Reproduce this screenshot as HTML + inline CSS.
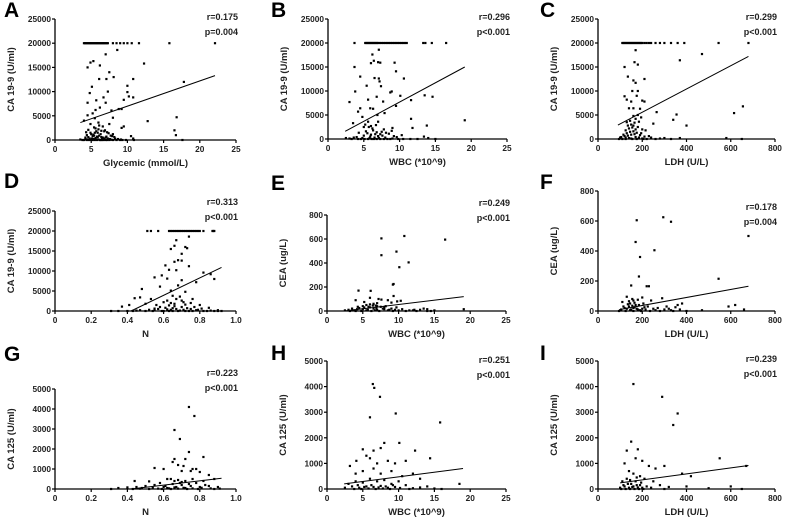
<!DOCTYPE html>
<html><head><meta charset="utf-8"><style>
html,body{margin:0;padding:0;background:#fff;}
svg{display:block;font-family:"Liberation Sans",Arial,sans-serif;}
</style></head><body>
<svg id="fig" width="800" height="519" viewBox="0 0 800 519"></svg>
<script>
// ---------- data ----------
const aPoints=[[4.0,20000],[4.3,20000],[4.6,20000],[4.9,20000],[5.2,20000],[5.5,20000],[5.8,20000],[6.1,20000],[6.4,20000],[6.7,20000],[7.0,20000],[7.3,20000],[8.0,20000],[8.5,20000],[9.0,20000],[9.5,20000],[10.0,20000],[10.6,20000],[11.6,20000],[15.8,20000],[22.1,20000],[4.15,20000],[4.45,20000],[4.75,20000],[5.05,20000],[5.35,20000],[5.65,20000],[5.95,20000],[6.25,20000],[6.55,20000],[6.85,20000],[7.15,20000],
[4.5,15000],[4.9,16000],[5.3,16300],[6.2,15400],[7.0,17700],[7.5,14000],[8.6,18600],[12.3,15800],[6.1,12600],[7.1,12600],[8.1,13000],[10.8,12600],[17.8,12000],[4.8,9700],[5.1,11000],[5.7,8200],[6.7,8800],[7.3,10000],[9.5,8300],[10.0,11200],[10.0,9900],[10.2,9000],[10.8,8800],[4.5,7700],[5.6,6200],[6.2,6700],[7.0,7700],[7.8,6100],[8.8,6400],[9.2,6400],[4.0,4000],[4.5,5100],[5.2,5500],[5.5,4500],[6.0,3600],[7.5,3300],[8.0,4600],[12.8,3900],[16.8,4700],[16.5,2000],[16.7,1000],[9.5,2800],[9.2,2500],[4.6,2100],[5.5,1500],[6.0,2200],[6.8,1800],[7.4,1400],[8.0,1200],[10.5,800],[10.8,300],[4.2,500],[4.8,300],[5.2,800],[5.6,400],[6.1,900],[6.5,200],[7.0,500],[7.6,200],[8.3,300],[9.1,100],[3.5,100],[17.6,0],[4.0,0],[4.5,100],[5.0,0],[5.3,200],[5.8,100],[6.3,0],[6.8,100],[7.2,0],[7.8,50],[8.5,0],[9.8,0],[10.9,0],[5.0,1200],[5.9,1500],[6.4,600],[4.4,1000],[7.9,800],[6.6,2800],[5.4,2600],
[3.8,0],[4.2,200],[4.4,0],[4.6,600],[4.7,0],[4.9,1500],[5.1,300],[5.2,0],[5.4,900],[5.5,0],[5.7,1800],[5.8,0],[5.9,600],[6.0,100],[6.2,0],[6.3,1200],[6.5,0],[6.6,500],[6.7,0],[6.9,2000],[7.0,0],[7.1,700],[7.3,300],[7.5,0],[7.7,900],[8.0,0],[8.2,600],[8.7,200],[9.0,0],[9.3,0],[5.6,2400],[6.1,3000],[4.9,3300],[6.4,1900],[5.3,1100],[4.3,1600],[5.8,700],[6.8,300],[7.2,1600]];
const aLine=[3.5,3600,22.1,13300];

const bPoints=[[3.7,20000],[5.2,20000],[5.5,20000],[5.8,20000],[6.1,20000],[6.4,20000],[6.7,20000],[7.0,20000],[7.5,20000],[8.0,20000],[8.5,20000],[9.0,20000],[9.5,20000],[10.0,20000],[10.5,20000],[11.0,20000],[13.3,20000],[13.6,20000],[14.5,20000],[16.5,20000],[5.35,20000],[5.65,20000],[5.95,20000],[6.25,20000],[6.55,20000],[6.85,20000],[7.25,20000],[7.75,20000],[8.25,20000],[8.75,20000],[9.25,20000],[9.75,20000],[10.25,20000],[10.75,20000],
[3.7,15000],[4.5,13000],[3.8,9900],[3.0,7700],[6.2,17600],[6.4,16300],[6.0,15800],[7.0,16000],[7.3,15900],[7.1,18600],[9.3,15900],[9.5,14100],[6.5,12700],[7.1,12600],[7.2,12000],[10.6,12600],[7.4,11000],[5.4,11100],[6.8,8800],[5.6,8200],[8.9,9900],[8.7,9700],[10.1,9000],[11.6,8100],[13.5,9100],[14.6,8800],[9.5,6900],[7.7,7800],[4.5,6400],[5.9,6400],[6.3,6300],[4.2,5700],[6.9,5000],[7.9,5400],[4.8,4600],[5.6,3600],[7.0,3600],[3.5,3300],[11.6,4200],[19.1,3900],[13.8,2800],[11.8,2300],[9.0,2300],[5.0,2500],[6.3,1800],[7.5,1500],[8.5,1100],[10.3,800],[13.4,500],[14.0,200],[2.5,200],[3.0,100],[4.0,400],[5.0,700],[6.0,900],[7.0,600],[8.0,300],[9.0,100],[10.5,0],[11.5,0],[12.5,0],[15.0,0],[5.5,1200],[6.5,300],[7.3,1000],[5.8,200],[6.8,1400],[4.6,0],[8.3,0],[9.6,400],
[3.3,0],[3.6,300],[4.2,0],[4.8,200],[5.1,0],[5.3,1600],[5.6,0],[5.9,500],[6.1,0],[6.2,2200],[6.4,0],[6.6,1000],[6.8,0],[7.1,200],[7.3,0],[7.6,700],[7.8,0],[8.1,1300],[8.7,0],[9.2,600],[9.8,0],[6.0,2700],[6.7,2900],[5.2,3000],[7.8,2000],[8.9,1700],[4.3,1300],[5.7,2500]];
const bLine=[2.4,1600,19.1,15000];

const cPoints=[[110,20000],[120,20000],[130,20000],[140,20000],[150,20000],[160,20000],[170,20000],[180,20000],[190,20000],[200,20000],[220,20000],[240,20000],[260,20000],[280,20000],[300,20000],[330,20000],[360,20000],[390,20000],[545,20000],[680,20000],[115,20000],[125,20000],[135,20000],[145,20000],[155,20000],[165,20000],[175,20000],[185,20000],[195,20000],[210,20000],[230,20000],
[170,18500],[165,16000],[180,15500],[120,15000],[135,13000],[160,12200],[170,11700],[210,12500],[370,16400],[470,17700],[155,10000],[180,10000],[120,8900],[175,9000],[130,8200],[200,8000],[210,7800],[150,7800],[140,6400],[160,6400],[190,6300],[265,5600],[180,5000],[355,5100],[340,4000],[400,2800],[615,5400],[655,6800],[130,3500],[150,3000],[170,4200],[200,2000],[250,3200],[300,200],[370,200],[580,200],[650,0],[100,300],[110,0],[120,600],[130,1200],[140,200],[150,900],[160,1600],[170,400],[180,2500],[190,800],[200,100],[210,500],[220,0],[240,300],[140,2200],[160,2800],[125,1800],[175,1300],
[95,0],[105,400],[115,900],[125,0],[135,700],[145,1500],[155,0],[165,1000],[175,0],[185,300],[195,1200],[205,0],[215,1800],[230,600],[260,0],[280,100],[330,0],[145,3800],[165,3400],[155,2400],[135,2800],[185,3600],[195,4500],[160,4800],[125,300],[150,100],[170,2000]];
const cLine=[90,2900,680,17200];

const dPoints=[[0.51,20000],[0.53,20000],[0.57,20000],[0.63,20000],[0.65,20000],[0.67,20000],[0.69,20000],[0.71,20000],[0.73,20000],[0.75,20000],[0.77,20000],[0.79,20000],[0.82,20000],[0.87,20000],[0.88,20000],[0.64,20000],[0.66,20000],[0.68,20000],[0.70,20000],[0.72,20000],[0.74,20000],[0.76,20000],[0.78,20000],[0.80,20000],[0.875,20000],
[0.74,18600],[0.67,17700],[0.64,15500],[0.66,16300],[0.72,16000],[0.73,15700],[0.70,14300],[0.68,12700],[0.66,12300],[0.70,12600],[0.61,11400],[0.74,11200],[0.63,10300],[0.67,10200],[0.82,9600],[0.86,9200],[0.88,8000],[0.55,8400],[0.59,8900],[0.62,8100],[0.70,7700],[0.78,7200],[0.48,5500],[0.58,6100],[0.64,5100],[0.72,4800],[0.68,6400],[0.44,3200],[0.47,3400],[0.53,3000],[0.65,3800],[0.76,3000],[0.41,1500],[0.37,1100],[0.50,1800],[0.60,2200],[0.70,2600],[0.80,1500],[0.85,800],[0.55,600],[0.65,700],[0.75,500],[0.90,200],[0.31,0],[0.35,0],[0.40,0],[0.45,100],[0.50,0],[0.55,200],[0.60,0],[0.62,400],[0.66,1200],[0.68,0],[0.71,300],[0.74,0],[0.78,200],[0.82,0],[0.86,100],[0.92,0],[0.58,1000],[0.64,2000],[0.72,1600],[0.67,3000],
[0.43,0],[0.47,200],[0.52,300],[0.54,0],[0.57,500],[0.59,0],[0.61,800],[0.63,0],[0.64,300],[0.65,0],[0.66,1800],[0.67,500],[0.69,100],[0.70,1000],[0.72,0],[0.73,700],[0.76,0],[0.77,1000],[0.79,300],[0.81,600],[0.84,0],[0.88,0],[0.90,0],[0.62,2600],[0.69,3600],[0.71,2200],[0.75,2000],[0.63,1400],[0.56,1500]];
const dLine=[0.42,0,0.92,10900];

const ePoints=[[7.6,605],[7.6,465],[10.8,625],[9.7,495],[10.1,365],[11.4,405],[16.5,595],[9.3,225],[9.2,220],[4.4,170],[6.1,168],[9.3,125],[4.0,90],[5.2,75],[6.0,110],[7.2,100],[7.6,95],[8.5,90],[9.0,70],[9.8,80],[10.3,85],[5.5,50],[6.5,60],[7.0,40],[8.0,30],[13.5,20],[14.0,15],[19.1,15],[2.5,5],[3,10],[3.5,20],[4,0],[4.5,25],[5,15],[5.5,5],[6,30],[6.5,20],[7,10],[7.5,35],[8,15],[8.5,5],[9,20],[9.5,10],[10,5],[11,0],[12,5],[12.5,0],[13,10],[14.5,0],[15,5],[6.8,45],[5.8,35],
[3.2,0],[3.8,5],[4.2,15],[4.8,0],[5.2,30],[5.7,10],[6.2,0],[6.4,45],[6.7,5],[6.9,25],[7.3,0],[7.8,20],[8.2,40],[8.7,10],[9.2,0],[9.7,30],[10.5,15],[11.5,5],[12.2,10],[14,0],[5.0,40],[6.0,55],[7.0,65],[4.3,35]];
const eLine=[2.4,0,19.1,120];

const fPoints=[[175,605],[295,625],[330,595],[170,460],[190,360],[255,405],[185,230],[220,165],[230,165],[150,170],[680,500],[545,215],[590,30],[620,40],[660,10],[470,5],[110,60],[130,95],[160,70],[200,90],[240,70],[290,85],[380,50],[360,40],[350,25],[120,20],[140,30],[150,10],[170,40],[190,5],[210,25],[250,15],[300,10],[330,5],[100,5],[130,15],[160,20],[180,10],[200,15],[270,20],[310,30],[400,0],[145,50],[165,25],
[95,0],[105,10],[115,30],[125,0],[135,45],[145,5],[155,35],[160,0],[165,55],[175,15],[185,40],[195,0],[205,50],[215,10],[225,30],[235,0],[260,5],[280,0],[320,15],[340,0],[370,10],[140,65],[155,80],[180,75]];
const fLine=[100,10,680,165];

const gPoints=[[0.74,4100],[0.77,3650],[0.66,2950],[0.69,2500],[0.74,1850],[0.82,1600],[0.66,1500],[0.72,1500],[0.55,1050],[0.60,1000],[0.65,1350],[0.68,1200],[0.71,1150],[0.76,1000],[0.78,1000],[0.70,900],[0.75,900],[0.80,850],[0.85,700],[0.44,400],[0.52,380],[0.58,300],[0.62,500],[0.64,500],[0.68,450],[0.72,400],[0.76,500],[0.82,400],[0.88,500],[0.35,50],[0.40,80],[0.45,100],[0.5,150],[0.55,200],[0.6,100],[0.65,250],[0.7,200],[0.75,150],[0.8,100],[0.85,150],[0.9,100],[0.31,0],[0.48,50],[0.62,50],[0.72,50],[0.67,100],[0.78,300],
[0.43,0],[0.47,20],[0.52,0],[0.54,60],[0.57,20],[0.59,0],[0.61,150],[0.63,30],[0.64,0],[0.66,80],[0.68,20],[0.69,300],[0.71,60],[0.73,0],[0.74,250],[0.76,30],[0.79,0],[0.81,60],[0.83,200],[0.86,30],[0.88,0],[0.91,20],[0.66,400],[0.70,350]];
const gLine=[0.42,0,0.92,540];

const hPoints=[[6.4,4100],[6.6,3950],[7.4,3600],[9.6,2950],[6.0,2800],[15.8,2600],[5.0,1550],[6.5,1500],[7.5,1600],[8.0,1800],[10.1,1800],[4.1,1100],[5.5,1300],[6.0,1200],[7.0,1000],[8.5,1100],[9.5,1000],[11,1100],[12.3,1500],[14.4,1200],[3.2,900],[4.0,600],[5.0,700],[6.5,800],[7.5,600],[9,700],[10.5,500],[12,600],[13,400],[3,200],[4,300],[5,250],[6,400],[7,300],[8,350],[9,200],[10,300],[11,150],[14,100],[18.5,200],[2.5,50],[3.5,100],[4.5,50],[5.5,100],[6.5,80],[7.5,120],[8.5,50],[9.5,80],[12,30],[15,20],
[3.8,0],[4.3,150],[4.8,0],[5.2,80],[5.8,20],[6.2,150],[6.8,0],[7.2,60],[7.8,20],[8.2,100],[8.8,0],[9.2,150],[10.2,40],[11.5,0],[13,60],[16,0]];
const hLine=[2.4,200,19,800];

const iPoints=[[160,4100],[290,3600],[360,2950],[340,2500],[150,1850],[180,1550],[130,1500],[550,1200],[670,900],[120,1000],[170,1200],[200,1100],[230,900],[260,800],[300,900],[380,600],[420,500],[140,700],[160,600],[190,500],[210,400],[250,300],[110,300],[130,400],[150,200],[170,300],[190,150],[220,100],[280,150],[400,100],[600,100],[100,50],[120,100],[140,50],[160,100],[180,60],[200,50],[500,30],[650,0],
[105,0],[115,150],[125,0],[135,200],[145,0],[155,80],[165,0],[175,150],[185,0],[195,250],[205,0],[240,50],[300,0],[320,80],[145,350],[175,450]];
const iLine=[100,240,680,920];

const glyXTicks=["0","5","10","15","20","25"];
const nXTicks=["0","0.2","0.4","0.6","0.8","1.0"];
const ldhXTicks=["0","200","400","600","800"];
const ca199YTicks=["0","5000","10000","15000","20000","25000"];
const ceaYTicks=["0","200","400","600","800"];
const ca125YTicks=["0","1000","2000","3000","4000","5000"];

// ---------- layout ----------
const panels=[
 {id:"a",letter:"A",lx:4,ly:17,x0:55,x1:236,y0:140,y1:19,xmax:25,ymax:25000,xt:glyXTicks,yt:ca199YTicks,xl:"Glycemic (mmol/L)",yl:"CA 19-9 (U/ml)",r:"r=0.175",p:"p=0.004",sx:238,ry:20,pts:aPoints,ln:aLine},
 {id:"b",letter:"B",lx:271,ly:17,x0:328,x1:507,y0:139,y1:19,xmax:25,ymax:25000,xt:glyXTicks,yt:ca199YTicks,xl:"WBC (*10^9)",yl:"CA 19-9 (U/ml)",r:"r=0.296",p:"p<0.001",sx:510,ry:20,pts:bPoints,ln:bLine},
 {id:"c",letter:"C",lx:540,ly:17,x0:598,x1:775,y0:139,y1:19,xmax:800,ymax:25000,xt:ldhXTicks,yt:ca199YTicks,xl:"LDH (U/L)",yl:"CA 19-9 (U/ml)",r:"r=0.299",p:"p<0.001",sx:777,ry:20,pts:cPoints,ln:cLine},
 {id:"d",letter:"D",lx:4,ly:188,x0:55,x1:236,y0:311,y1:211,xmax:1,ymax:25000,xt:nXTicks,yt:ca199YTicks,xl:"N",yl:"CA 19-9 (U/ml)",r:"r=0.313",p:"p<0.001",sx:238,ry:205,pts:dPoints,ln:dLine},
 {id:"e",letter:"E",lx:271,ly:190,x0:327,x1:506,y0:311,y1:215,xmax:25,ymax:800,xt:glyXTicks,yt:ceaYTicks,xl:"WBC (*10^9)",yl:"CEA (ug/L)",r:"r=0.249",p:"p<0.001",sx:510,ry:206,pts:ePoints,ln:eLine},
 {id:"f",letter:"F",lx:540,ly:189,x0:598,x1:775,y0:311,y1:191,xmax:800,ymax:800,xt:ldhXTicks,yt:ceaYTicks,xl:"LDH (U/L)",yl:"CEA (ug/L)",r:"r=0.178",p:"p=0.004",sx:777,ry:210,pts:fPoints,ln:fLine},
 {id:"g",letter:"G",lx:4,ly:361,x0:55,x1:236,y0:489,y1:389,xmax:1,ymax:5000,xt:nXTicks,yt:ca125YTicks,xl:"N",yl:"CA 125 (U/ml)",r:"r=0.223",p:"p<0.001",sx:238,ry:376,pts:gPoints,ln:gLine},
 {id:"h",letter:"H",lx:271,ly:360,x0:327,x1:506,y0:489,y1:361,xmax:25,ymax:5000,xt:glyXTicks,yt:ca125YTicks,xl:"WBC (*10^9)",yl:"CA 125 (U/ml)",r:"r=0.251",p:"p<0.001",sx:510,ry:363,pts:hPoints,ln:hLine},
 {id:"i",letter:"I",lx:540,ly:360,x0:598,x1:775,y0:489,y1:361,xmax:800,ymax:5000,xt:ldhXTicks,yt:ca125YTicks,xl:"LDH (U/L)",yl:"CA 125 (U/ml)",r:"r=0.239",p:"p<0.001",sx:777,ry:362,pts:iPoints,ln:iLine}
];

const NS="http://www.w3.org/2000/svg";
const svg=document.getElementById("fig");
function mk(tag,attrs,parent,text){const e=document.createElementNS(NS,tag);for(const k in attrs)e.setAttribute(k,attrs[k]);if(text!==undefined)e.textContent=text;parent.appendChild(e);return e;}

panels.forEach(P=>{
  const g=mk("g",{},svg);
  
  
  const sx=v=>P.x0+(v/P.xmax)*(P.x1-P.x0);
  const sy=v=>P.y0-(v/P.ymax)*(P.y0-P.y1);
  const lt=mk("text",{x:P.lx,y:P.ly,"font-size":"21","font-weight":"bold",fill:"#000"},g,P.letter);
  
  
  const ya=mk("line",{x1:P.x0,y1:P.y0,x2:P.x0,y2:P.y1,stroke:"#000","stroke-width":"1.3"},g);
  
  
  const xa=mk("line",{x1:P.x0,y1:P.y0,x2:P.x1,y2:P.y0,stroke:"#000","stroke-width":"1.3"},g);
  
  
  P.yt.forEach(t=>{const y=sy(parseFloat(t));
    mk("line",{x1:P.x0-3,y1:y,x2:P.x0,y2:y,stroke:"#000","stroke-width":"1.2"},g);
    const tx=mk("text",{x:P.x0-4,y:y+3,"font-size":"8.3","font-weight":"bold","text-anchor":"end",fill:"#222"},g,t);
    
    
  });
  P.xt.forEach(t=>{const x=sx(parseFloat(t));
    mk("line",{x1:x,y1:P.y0,x2:x,y2:P.y0+3,stroke:"#000","stroke-width":"1.2"},g);
    const tx=mk("text",{x:x,y:P.y0+12,"font-size":"8.3","font-weight":"bold","text-anchor":"middle",fill:"#222"},g,t);
    
    
  });
  const xl=mk("text",{x:(P.x0+P.x1)/2,y:P.y0+26,"font-size":"9.5","font-weight":"bold","text-anchor":"middle",fill:"#222"},g,P.xl);
  
  
  const ycx=P.x0-41, ycy=(P.y0+P.y1)/2;
  const yl=mk("text",{x:ycx,y:ycy,"font-size":"9.5","font-weight":"bold","text-anchor":"middle",fill:"#222",transform:`rotate(-90 ${ycx} ${ycy})`},g,P.yl);
  
  
  const rt=mk("text",{x:P.sx,y:P.ry,"font-size":"9","font-weight":"bold","text-anchor":"end",fill:"#222"},g,P.r);
  
  
  const pt=mk("text",{x:P.sx,y:P.ry+15,"font-size":"9","font-weight":"bold","text-anchor":"end",fill:"#222"},g,P.p);
  
  
  P.pts.forEach(d=>{
    const c=mk("rect",{x:sx(d[0])-1.1,y:sy(d[1])-1.1,width:2.2,height:2.2,fill:"#000"},g);
    
    
  });
  const rl=mk("line",{x1:sx(P.ln[0]),y1:sy(P.ln[1]),x2:sx(P.ln[2]),y2:sy(P.ln[3]),stroke:"#000","stroke-width":"1"},g);
  
  
});
</script>
</body></html>
